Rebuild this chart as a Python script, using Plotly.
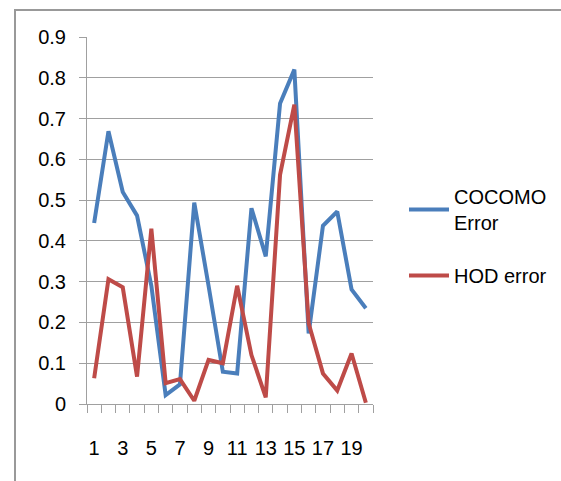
import plotly.graph_objects as go

categories = list(range(1, 21))
cocomo_error = [0.444, 0.669, 0.52, 0.462, 0.29, 0.022, 0.048, 0.494, 0.29, 0.079,
                0.075, 0.48, 0.362, 0.737, 0.82, 0.173, 0.437, 0.472, 0.281, 0.235]
hod_error = [0.063, 0.306, 0.286, 0.067, 0.43, 0.051, 0.061, 0.008, 0.108, 0.1,
             0.29, 0.12, 0.016, 0.562, 0.734, 0.198, 0.075, 0.033, 0.124, 0.003]
x_tick_labels = [str(v) for v in range(1, 20, 2)]
y_ticks = [round(0.1 * i, 1) for i in range(10)]

FONT = "Liberation Sans Narrow, Arial Narrow, Liberation Sans, Arial"
GRID = "#a0a0a0"

W, H = 561, 481
L, R, T, B = 87, 188, 37, 77
pw = W - L - R
ph = H - T - B

fig = go.Figure()
fig.add_trace(go.Scatter(x=categories, y=cocomo_error, mode="lines", name="COCOMO<br>Error",
                         line=dict(color="#4A7EBB", width=4), legendgroup="a"))
fig.add_trace(go.Scatter(x=categories, y=hod_error, mode="lines", name="HOD error",
                         line=dict(color="#BE4B48", width=4), legendgroup="b"))

def px2paper_x(px):
    return (px - L) / pw

def px2paper_y(py):
    return (H - B - py) / ph

fig.add_shape(type="rect", xref="paper", yref="paper",
              x0=px2paper_x(15), x1=px2paper_x(700), y0=px2paper_y(600), y1=px2paper_y(10),
              line=dict(color="#999999", width=2), fillcolor="rgba(0,0,0,0)", layer="below")

fig.update_layout(
    width=W, height=H,
    margin=dict(l=L, r=R, t=T, b=B, autoexpand=False),
    paper_bgcolor="white", plot_bgcolor="white",
    font=dict(family=FONT, size=20, color="#000000"),
    showlegend=True,
    legend=dict(x=px2paper_x(404), y=px2paper_y(177), xanchor="left", yanchor="top",
                font=dict(size=20, family=FONT), tracegroupgap=24,
                bgcolor="rgba(0,0,0,0)", itemwidth=40),
    xaxis=dict(range=[0.5, 20.5], tickmode="array", tickvals=list(range(1, 20, 2)),
               ticktext=x_tick_labels, ticks="", showgrid=False, showline=True,
               linecolor=GRID, linewidth=1, zeroline=False, ticklabelstandoff=26,
               minor=dict(tickmode="linear", tick0=0.5, dtick=1, ticks="outside",
                          ticklen=8, tickcolor=GRID, showgrid=False),
               fixedrange=True),
    yaxis=dict(range=[0, 0.9], tickmode="array", tickvals=y_ticks,
               ticktext=[("%g" % v) for v in y_ticks],
               ticks="outside", ticklen=7, tickcolor=GRID, showgrid=True,
               gridcolor=GRID, gridwidth=1, showline=True, linecolor=GRID,
               linewidth=1, zeroline=False, ticklabelstandoff=9),
)

fig.write_html("out.html")
